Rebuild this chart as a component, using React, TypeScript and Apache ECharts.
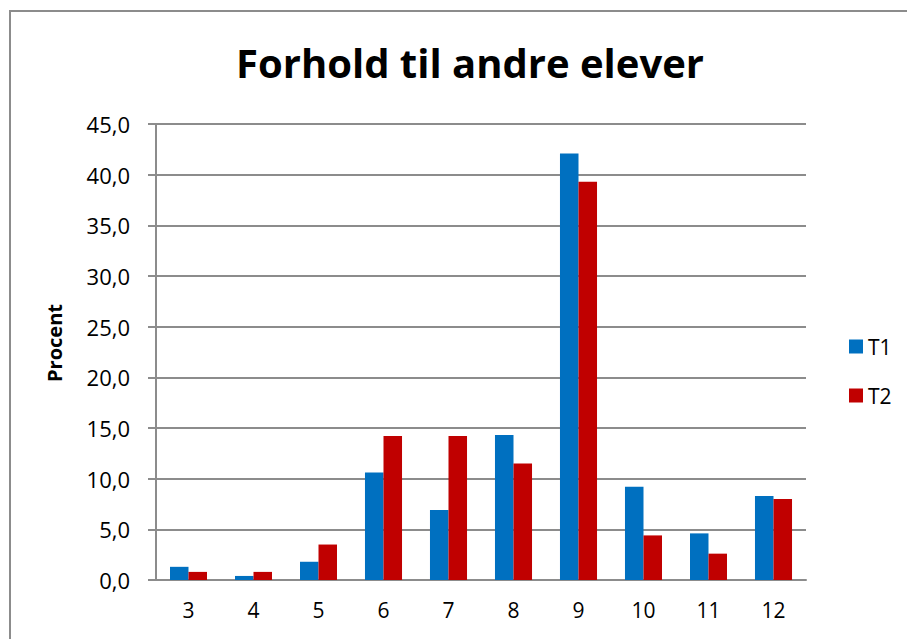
import React, { useEffect, useRef } from "react";
import * as echarts from "echarts";

const categories = ["3", "4", "5", "6", "7", "8", "9", "10", "11", "12"];
const t1Values = [1.3, 0.4, 1.8, 10.6, 6.9, 14.3, 42.1, 9.2, 4.6, 8.3];
const t2Values = [0.8, 0.8, 3.5, 14.2, 14.2, 11.5, 39.3, 4.4, 2.6, 8.0];
const seriesNames = ["T1", "T2"];
const titleText = "Forhold til andre elever";
const yAxisName = "Procent";

const FONT = "'Open Sans', 'Noto Sans', sans-serif";

export default function App() {
  const ref = useRef<HTMLDivElement>(null);
  useEffect(() => {
    if (!ref.current) return;
    const chart = echarts.init(ref.current, null, { renderer: "svg" });
    chart.setOption({
      animation: false,
      backgroundColor: "#ffffff",
      title: {
        text: titleText,
        left: 465,
        textAlign: "center",
        top: 37,
        textStyle: { fontFamily: FONT, fontWeight: "bold", fontSize: 40, color: "#000" },
      },
      graphic: [
        {
          type: "rect",
          shape: { x: 10, y: 11, width: 1000, height: 1000 },
          style: { fill: "none", stroke: "#8c8c8c", lineWidth: 2 },
          silent: true,
        },
      ],
      legend: {
        orient: "vertical",
        left: 849,
        top: 336,
        padding: 0,
        itemWidth: 14,
        itemHeight: 14,
        itemGap: 28,
        icon: "rect",
        textStyle: { fontFamily: FONT, fontSize: 21, color: "#000" },
        data: seriesNames,
      },
      grid: { left: 156, right: 101, top: 124, bottom: 59, containLabel: false },
      xAxis: {
        type: "category",
        data: categories,
        axisLine: { lineStyle: { color: "#8c8c8c", width: 2 } },
        axisTick: { show: false },
        axisLabel: { fontFamily: FONT, fontSize: 21, color: "#000", margin: 19 },
        splitLine: { show: false },
      },
      yAxis: {
        type: "value",
        min: 0,
        max: 45,
        interval: 5,
        name: yAxisName,
        nameLocation: "middle",
        nameRotate: 90,
        nameGap: 92,
        nameTextStyle: {
          fontFamily: FONT,
          fontWeight: "bold",
          fontSize: 20,
          color: "#000",
          padding: [0, 0, 0, 18],
        },
        axisLine: { show: true, lineStyle: { color: "#8c8c8c", width: 2 } },
        axisTick: { show: true, inside: false, length: 8, lineStyle: { color: "#8c8c8c", width: 2 } },
        axisLabel: {
          fontFamily: FONT,
          fontSize: 22,
          color: "#000",
          margin: 26,
          formatter: (v: number) => v.toFixed(1).replace(".", ","),
        },
        splitLine: { show: true, lineStyle: { color: "#8c8c8c", width: 2 } },
      },
      series: [
        {
          name: seriesNames[0],
          type: "bar",
          data: t1Values,
          barGap: "0%",
          barCategoryGap: "43%",
          itemStyle: { color: "#0070C0" },
        },
        {
          name: seriesNames[1],
          type: "bar",
          data: t2Values,
          barGap: "0%",
          barCategoryGap: "43%",
          itemStyle: { color: "#C00000" },
        },
      ],
    });
    return () => chart.dispose();
  }, []);
  return (
    <div
      ref={ref}
      style={{ position: "fixed", left: 0, top: 0, width: 907, height: 639 }}
    />
  );
}
